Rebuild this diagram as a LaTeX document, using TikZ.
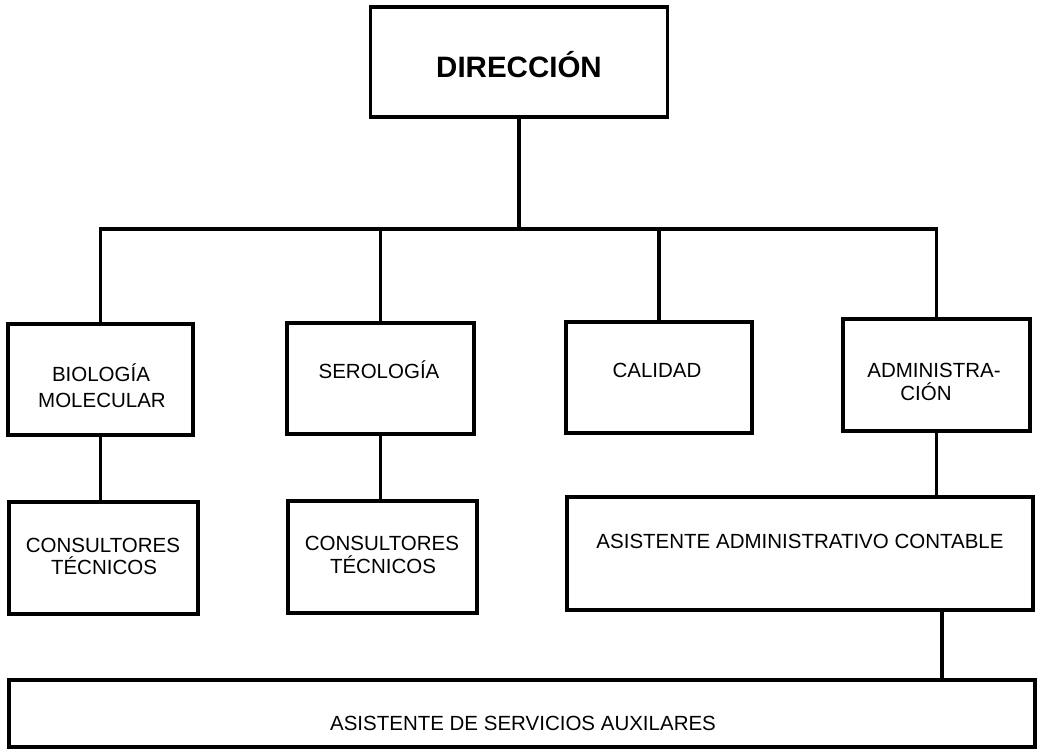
\documentclass[tikz,border=0pt]{standalone}
\usepackage{fontspec}
\setmainfont{Liberation Sans}
\begin{document}
\begin{tikzpicture}[x=1pt,y=-1pt,
  box/.style={draw=black,line width=3.2pt,inner sep=0pt,outer sep=0pt,fill=white},
  conn/.style={draw=black,line width=3.2pt},
  lbl/.style={font=\fontsize{20.5}{23}\selectfont,inner sep=0pt,anchor=base},
  ttl/.style={font=\fontsize{29.5}{32}\selectfont\bfseries,inner sep=0pt,anchor=base}]
\useasboundingbox[fill=white] (0,0) rectangle (1039,750);
% connectors (drawn first, boxes cover their ends)
\coordinate (bus) at (0,229);
\coordinate (kx) at (942,0);
\coordinate (d) at (519,62);
\coordinate (b) at (100.5,379.5);
\coordinate (s) at (380.5,378.5);
\coordinate (c) at (659,377.5);
\coordinate (a) at (936.5,375);
% boxes
\node[box,minimum width=297pt,minimum height=110pt] (dir) at (d) {};
\node[box,minimum width=185pt,minimum height=111pt] (bio) at (b) {};
\node[box,minimum width=187pt,minimum height=111pt] (sero) at (s) {};
\node[box,minimum width=186pt,minimum height=111pt] (cal) at (c) {};
\node[box,minimum width=187pt,minimum height=112pt] (adm) at (a) {};
\node[box,minimum width=189pt,minimum height=112pt] (con1) at (103.5,558) {};
\node[box,minimum width=189pt,minimum height=112pt] (con2) at (382.5,557) {};
\node[box,minimum width=466pt,minimum height=113pt] (asa) at (800,553.5) {};
\node[box,minimum width=1026pt,minimum height=67pt] (aux) at (522,713.5) {};
\draw[conn,line cap=rect] (bio.north |- bus) -- (adm.north |- bus);
\draw[conn] (dir.south) -- (dir.south |- bus);
\draw[conn] (bio.north) -- (bio.north |- bus);
\draw[conn] (sero.north) -- (sero.north |- bus);
\draw[conn] (cal.north) -- (cal.north |- bus);
\draw[conn] (adm.north) -- (adm.north |- bus);
\draw[conn] (bio.south) -- (bio.south |- con1.north);
\draw[conn] (sero.south) -- (sero.south |- con2.north);
\draw[conn] (adm.south) -- (adm.south |- asa.north);
\draw[conn] (asa.south -| kx) -- (aux.north -| kx);
% texts
\node[ttl] (tdir) at (519,77) {DIRECCIÓN};
\node[lbl] (tbio1) at (101,381) {BIOLOGÍA};
\node[lbl] (tbio2) at (102,407) {MOLECULAR};
\node[lbl] (tsero) at (379,378) {SEROLOGÍA};
\node[lbl] (tcal) at (657,377) {CALIDAD};
\node[lbl] (tadm1) at (934,377) {ADMINISTRA-};
\node[lbl] (tadm2) at (926,400) {CIÓN};
\node[lbl] (tcon1a) at (103,552) {CONSULTORES};
\node[lbl] (tcon1b) at (104,574) {TÉCNICOS};
\node[lbl] (tcon2a) at (382,550) {CONSULTORES};
\node[lbl] (tcon2b) at (383,573) {TÉCNICOS};
\node[lbl] (tasa) at (800,548) {ASISTENTE ADMINISTRATIVO CONTABLE};
\node[lbl] (taux) at (523,730) {ASISTENTE DE SERVICIOS AUXILARES};
\end{tikzpicture}
\end{document}
